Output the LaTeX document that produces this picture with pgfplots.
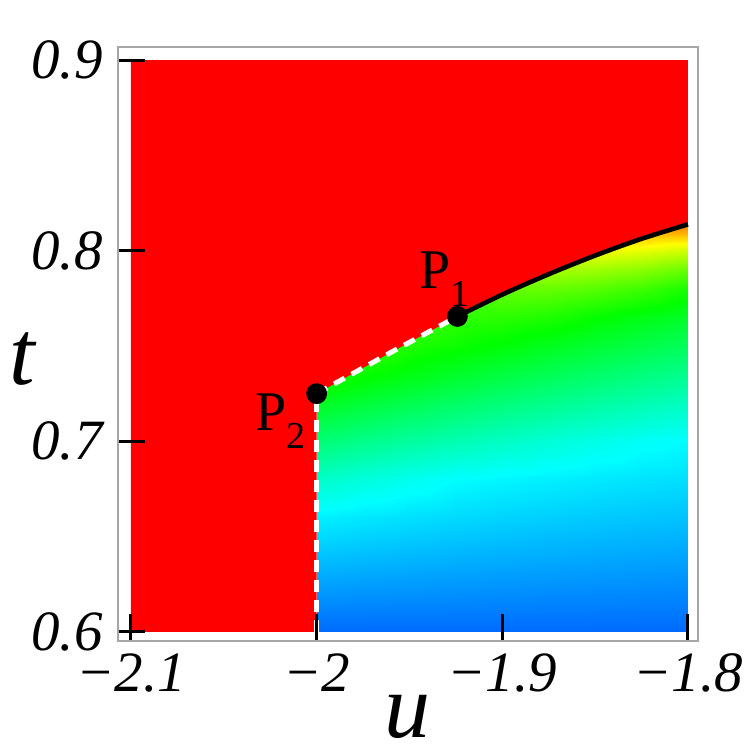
\documentclass[border=0pt]{standalone}
\usepackage{pgfplots}
\pgfplotsset{compat=1.18}
\usepackage{fontspec}
\setmainfont{Liberation Serif}
\begin{document}
\begin{tikzpicture}
\begin{axis}[
 name=ax,
 width=290pt, height=297pt, scale only axis,
 xmin=-2.1070, xmax=-1.7946, ymin=0.59527, ymax=0.90683,
 axis on top,
 axis line style={draw=black!35, line width=0.6pt},
 xtick={-2.1,-2,-1.9,-1.8}, xticklabels={−2.1,−2,−1.9,−1.8},
 ytick={0.6,0.7,0.8,0.9}, yticklabels={0.6,0.7,0.8,0.9},
 tick align=inside, tick pos=left,
 major tick length=13.5pt,
 tick style={black, line width=1.5pt},
 ticklabel style={font=\fontsize{28.5}{30}\selectfont\itshape},
 xticklabel style={inner sep=0pt, anchor=north, yshift=-6pt},
 yticklabel style={inner sep=0pt, anchor=east, xshift=-7.5pt},
 xlabel={u}, xlabel style={at={(axis description cs:0.5,-0.163)}, anchor=base, inner sep=0pt, font=\fontsize{46}{48}\selectfont\itshape},
 ylabel={t}, ylabel style={at={(axis description cs:-0.1655,0.431)}, anchor=base, rotate=-90, inner sep=0pt, font=\fontsize{46}{48}\selectfont\itshape},
 colormap={hue}{rgb255(0cm)=(255,0,0) rgb255(1cm)=(255,255,0) rgb255(2cm)=(0,255,0) rgb255(3cm)=(0,255,255) rgb255(4cm)=(0,0,255)},
 point meta min=0, point meta max=240,
]
\addplot[surf, shader=interp, mesh/rows=14, mesh/cols=9, point meta=explicit] table[x=u, y=t, meta=h] {
u t h
-2.000 0.600 215
-1.975 0.600 215
-1.950 0.600 215
-1.925 0.600 215
-1.900 0.600 215
-1.875 0.600 215
-1.850 0.600 215
-1.825 0.600 215
-1.800 0.600 215
-2.000 0.630 199.3
-1.975 0.630 200.3
-1.950 0.630 201.1
-1.925 0.630 201.9
-1.900 0.630 202.6
-1.875 0.630 203.2
-1.850 0.630 203.7
-1.825 0.630 204.2
-1.800 0.630 204.7
-2.000 0.660 183.7
-1.975 0.660 185.6
-1.950 0.660 187.3
-1.925 0.660 188.8
-1.900 0.660 190.2
-1.875 0.660 191.4
-1.850 0.660 192.5
-1.825 0.660 193.5
-1.800 0.660 194.4
-2.000 0.680 167.0
-1.975 0.680 171.7
-1.950 0.680 176.0
-1.925 0.680 180.1
-1.900 0.680 181.9
-1.875 0.680 183.5
-1.850 0.680 185.0
-1.825 0.680 186.3
-1.800 0.680 187.5
-2.000 0.700 147.0
-1.975 0.700 152.3
-1.950 0.700 157.2
-1.925 0.700 161.8
-1.900 0.700 166.2
-1.875 0.700 170.4
-1.850 0.700 174.3
-1.825 0.700 178.0
-1.800 0.700 180.7
-2.000 0.720 127.0
-1.975 0.720 132.9
-1.950 0.720 138.4
-1.925 0.720 143.6
-1.900 0.720 148.4
-1.875 0.720 153.1
-1.850 0.720 157.5
-1.825 0.720 161.6
-1.800 0.720 165.6
-2.000 0.735 112.0
-1.975 0.735 118.5
-1.950 0.735 124.2
-1.925 0.735 129.9
-1.900 0.735 135.1
-1.875 0.735 140.1
-1.850 0.735 144.8
-1.825 0.735 149.3
-1.800 0.735 153.6
-2.000 0.750 97.0
-1.975 0.750 105.0
-1.950 0.750 113.3
-1.925 0.750 117.5
-1.900 0.750 121.8
-1.875 0.750 127.1
-1.850 0.750 132.2
-1.825 0.750 137.0
-1.800 0.750 141.6
-2.000 0.765 82.0
-1.975 0.765 91.0
-1.950 0.765 103.0
-1.925 0.765 108.6
-1.900 0.765 110.0
-1.875 0.765 113.0
-1.850 0.765 119.1
-1.825 0.765 124.7
-1.800 0.765 129.6
-2.000 0.780 67.0
-1.975 0.780 78.0
-1.950 0.780 92.0
-1.925 0.780 99.7
-1.900 0.780 95.0
-1.875 0.780 96.0
-1.850 0.780 100.0
-1.825 0.780 106.0
-1.800 0.780 115.0
-2.000 0.790 57.0
-1.975 0.790 69.0
-1.950 0.790 85.0
-1.925 0.790 93.7
-1.900 0.790 84.0
-1.875 0.790 80.0
-1.850 0.790 83.0
-1.825 0.790 88.0
-1.800 0.790 96.0
-2.000 0.800 47.0
-1.975 0.800 60.0
-1.950 0.800 78.0
-1.925 0.800 87.8
-1.900 0.800 73.0
-1.875 0.800 64.0
-1.850 0.800 62.0
-1.825 0.800 66.0
-1.800 0.800 72.0
-2.000 0.810 37.0
-1.975 0.810 51.0
-1.950 0.810 71.0
-1.925 0.810 81.8
-1.900 0.810 62.0
-1.875 0.810 48.0
-1.850 0.810 42.0
-1.825 0.810 40.0
-1.800 0.810 40.0
-2.000 0.820 27.0
-1.975 0.820 42.0
-1.950 0.820 64.0
-1.925 0.820 75.9
-1.900 0.820 49.5
-1.875 0.820 32.1
-1.850 0.820 22.5
-1.825 0.820 16.7
-1.800 0.820 12.5
};
% red region above the boundary
\addplot[fill={rgb,255:red,255;green,0;blue,0}, draw=none] coordinates {
(-2.1,0.6) (-2.0,0.6) (-2.0,0.725) (-1.9584,0.7475) (-1.9242,0.7655) (-1.8997,0.7771) (-1.8749,0.7877) (-1.8501,0.7974) (-1.8254,0.8061) (-1.8,0.8138) (-1.8,0.9) (-2.1,0.9)} -- cycle;
% dashed white boundary
\addplot[white, line width=2.5pt, dash pattern=on 6pt off 4pt] coordinates {(-2.0,0.6) (-2.0,0.725)};
\addplot[white, line width=2.5pt, dash pattern=on 6pt off 4pt] coordinates {(-2.0,0.725) (-1.9584,0.7475) (-1.9242,0.7655)};
% solid black line
\addplot[black, line width=2.3pt, smooth] coordinates {(-1.9242,0.7655) (-1.8997,0.7771) (-1.8749,0.7877) (-1.8501,0.7974) (-1.8254,0.8061) (-1.8,0.8138)};
% points
\addplot[only marks, mark=*, mark size=5pt, black] coordinates {(-1.9242,0.7655) (-2.0,0.725)};
\node[anchor=base west, inner sep=0pt, font=\fontsize{28}{28}\selectfont] at (axis cs:-1.9450,0.7802) {P\raisebox{-9pt}{\fontsize{19}{19}\selectfont 1}};
\node[anchor=base west, inner sep=0pt, font=\fontsize{28}{28}\selectfont] at (axis cs:-2.0330,0.7056) {P\raisebox{-9pt}{\fontsize{19}{19}\selectfont 2}};
\end{axis}
\pgfresetboundingbox
\path[use as bounding box] ([shift={(-59pt,-53pt)}]ax.south west) rectangle ([shift={(24.5pt,23.5pt)}]ax.north east);
\end{tikzpicture}
\end{document}
